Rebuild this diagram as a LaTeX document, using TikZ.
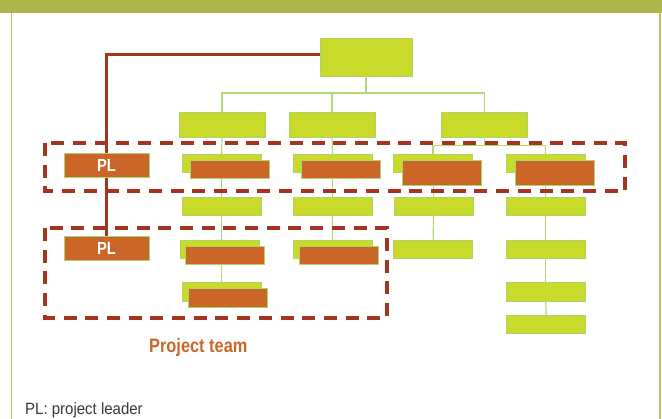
\documentclass[tikz,border=0pt]{standalone}
\usepackage{fontspec}
\setmainfont{Liberation Sans}
\newfontfamily\teamfont[FakeStretch=0.84]{Liberation Sans}
\newfontfamily\legendfont[FakeStretch=0.92]{Liberation Sans}
\definecolor{leaf}{HTML}{C9DA2B}
\definecolor{leafedge}{HTML}{ADD46C}
\definecolor{rust}{HTML}{CC6628}
\definecolor{brick}{HTML}{A4341F}
\definecolor{olive}{HTML}{ADB54D}
\definecolor{frameline}{HTML}{B7C65A}
\definecolor{twig}{HTML}{B2DA74}

\begin{document}
\begin{tikzpicture}[x=1pt,y=-1pt,
    unit/.style={draw=leafedge, line width=0.8pt, fill=leaf, inner sep=0pt,
      minimum width=79pt, minimum height=18.5pt},
    headunit/.style={unit, minimum width=86pt, minimum height=25pt},
    task/.style={unit, fill=rust},
    plbox/.style={task, minimum width=85pt, minimum height=24pt,
      text=white, font=\teamfont\fontsize{17.5}{18}\selectfont\bfseries},
    tie/.style={draw=twig, line width=1.2pt},
    lead/.style={draw=brick, line width=2.7pt},
    team/.style={draw=brick, line width=3.3pt, dash pattern=on 13pt off 8.7pt}]
    \useasboundingbox (0,0) rectangle (662,419);
    \fill[olive] (0,0) rectangle (662,13);
    \draw[frameline, line width=1.5pt] (11.5,13) -- (11.5,419);
    \draw[frameline, line width=1.5pt] (660,13) -- (660,419);

    \node[unit, minimum width=92pt, minimum height=38pt] (top) at (366,57) {};
    \node[headunit] (a1) at (222,124.5) {};
    \node[headunit] (b1) at (332,124.5) {};
    \node[headunit] (c1) at (484.5,124.5) {};

    \node[plbox] (pl1) at (106.5,165.2) {PL};
    \node[unit] (a2) at (221.7,163.5) {};
    \node[task] (a2t) at (230.3,169.5) {};
    \node[unit] (b2) at (332.5,163.5) {};
    \node[task] (b2t) at (341.2,169.5) {};
    \node[unit] (c2) at (433,163.5) {};
    \node[task, minimum height=24.3pt] (c2t) at (441.5,172.8) {};
    \node[unit] (d2) at (545.8,163.5) {};
    \node[task, minimum height=24.3pt] (d2t) at (554.7,172.8) {};

    \node[unit] (a3) at (221.7,206.5) {};
    \node[unit] (b3) at (332.4,206.5) {};
    \node[unit] (c3) at (433.4,206.3) {};
    \node[unit] (d3) at (545.8,206.3) {};

    \node[plbox] (pl2) at (106.5,248.3) {PL};
    \node[unit] (a4) at (219.7,249.2) {};
    \node[task] (a4t) at (225.3,255.2) {};
    \node[unit] (b4) at (332.5,249.2) {};
    \node[task] (b4t) at (338.7,255.2) {};
    \node[unit] (c4) at (433.3,249.3) {};
    \node[unit] (d4) at (545.8,249.3) {};

    \node[unit] (a5) at (221.8,291.8) {};
    \node[task] (a5t) at (228,297.8) {};
    \node[unit] (d5) at (545.8,291.8) {};
    \node[unit] (d6) at (546,324.5) {};

    \coordinate (fork) at (366,93);
    \coordinate (split) at (484.5,145.3);
    \draw[tie] (top.south) -- (fork);
    \draw[tie] (a1.north) |- (fork) -| (c1.north);
    \draw[tie] (b1.north) -- (b1.north |- fork);
    \draw[tie] (c1.south) -- (split);
    \draw[tie] (c2.north) |- (split) -| (d2.north);

    \draw[tie] (a1.south) -- (a2.north);
    \draw[tie] (a3.north) -- (a3.north |- a2t.south);
    \draw[tie] (a3.south) -- (a3.south |- a4.north);
    \draw[tie] (a5.north) -- (a5.north |- a4t.south);
    \draw[tie] (b1.south) -- (b2.north);
    \draw[tie] (b3.north) -- (b3.north |- b2t.south);
    \draw[tie] (b3.south) -- (b4.north);
    \draw[tie] (c3.north) -- (c3.north |- c2t.south);
    \draw[tie] (c3.south) -- (c4.north);
    \draw[tie] (d3.north) -- (d3.north |- d2t.south);
    \draw[tie] (d3.south) -- (d4.north);
    \draw[tie] (d4.south) -- (d5.north);
    \draw[tie] (d5.south) -- (d6.north);

    \draw[lead] ([yshift=2.7pt]top.west) -| (pl1.north);
    \draw[lead] (pl1.south) -- (pl2.north);

    \draw[team] (45,143) rectangle (625,191);
    \draw[team] (45,228) rectangle (387,318);

    \node[anchor=base, inner sep=0pt, text=rust,
      font=\teamfont\fontsize{19.5}{20}\selectfont\bfseries] (teamname) at (198.3,352.7) {Project team};
    \node[anchor=base west, inner sep=0pt, text=black!78,
      font=\legendfont\fontsize{16.3}{17}\selectfont] (legend) at (25,414.7) {PL: project leader};
\end{tikzpicture}
\end{document}
